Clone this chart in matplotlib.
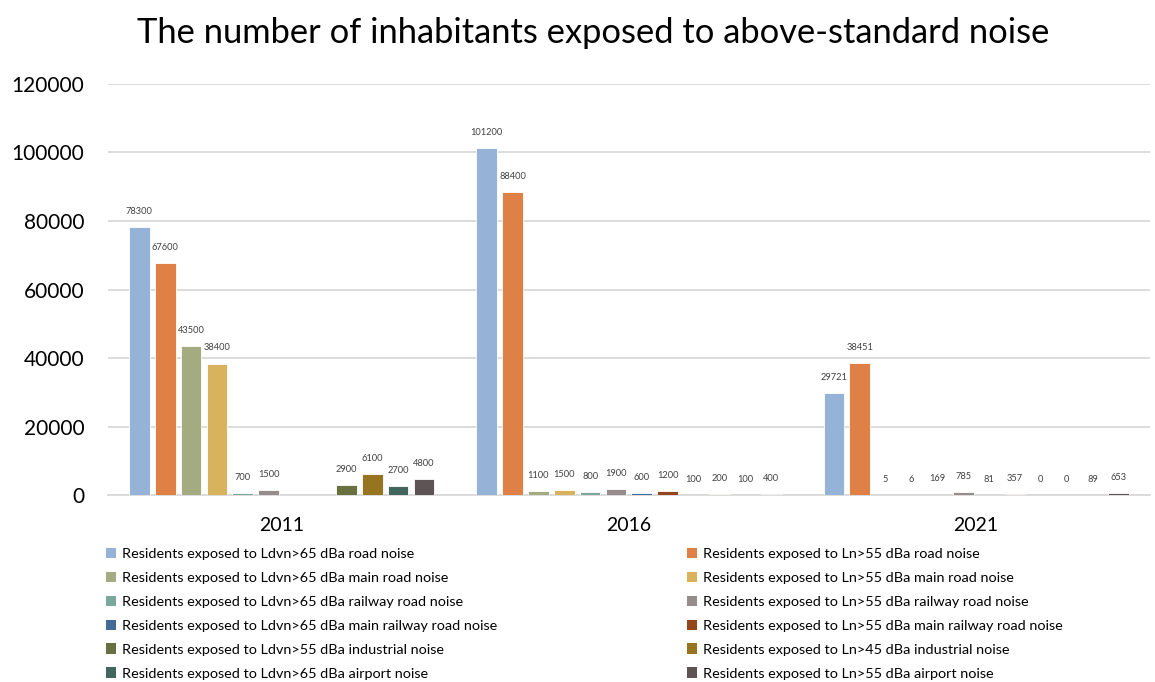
import numpy as np
import matplotlib
matplotlib.use("Agg")
import matplotlib.pyplot as plt
from matplotlib.patches import Patch

years = ["2011", "2016", "2021"]
series_names = [
    "Residents exposed to Ldvn>65 dBa road noise",
    "Residents exposed to Ln>55 dBa road noise",
    "Residents exposed to Ldvn>65 dBa main road noise",
    "Residents exposed to Ln>55 dBa main road noise",
    "Residents exposed to Ldvn>65 dBa railway road noise",
    "Residents exposed to Ln>55 dBa railway road noise",
    "Residents exposed to Ldvn>65 dBa main railway road noise",
    "Residents exposed to Ln>55 dBa main railway road noise",
    "Residents exposed to Ldvn>55 dBa industrial noise",
    "Residents exposed to Ln>45 dBa industrial noise",
    "Residents exposed to Ldvn>65 dBa airport noise",
    "Residents exposed to Ln>55 dBa airport noise",
]
values_2011 = [78300, 67600, 43500, 38400, 700, 1500, np.nan, np.nan, 2900, 6100, 2700, 4800]
values_2016 = [101200, 88400, 1100, 1500, 800, 1900, 600, 1200, 100, 200, 100, 400]
values_2021 = [29721, 38451, 5, 6, 169, 785, 81, 357, 0, 0, 89, 653]
colors = ["#95B3D7", "#DF8047", "#A5AB81", "#D8B25C", "#7BA79D", "#968C8C",
          "#426C95", "#93461B", "#68703F", "#97741F", "#41665E", "#5E5455"]

data = np.array([values_2011, values_2016, values_2021], dtype=float)  # years x series
n_series = len(series_names)

plt.rcParams['font.family'] = ['Lato', 'DejaVu Sans']
fig = plt.figure(figsize=(11.55, 6.82), dpi=100)
ax = fig.add_axes([0.0935, 0.274, 0.902, 0.603])

x = np.arange(len(years))
group_w = 0.894
slot = group_w / n_series
bar_w = slot * 0.8
for i in range(n_series):
    pos = x - group_w / 2 + slot * (i + 0.5)
    vals = data[:, i]
    bars = ax.bar(pos, np.nan_to_num(vals), width=bar_w, color=colors[i],
                  edgecolor="white", linewidth=0.6, zorder=3)
    labels = ["" if np.isnan(v) else f"{int(v)}" for v in vals]
    ax.bar_label(bars, labels=labels, padding=8, fontsize=6.7, color="#404040")

ax.set_xlim(-0.5, 2.5)
ax.set_ylim(0, 120000)
ax.set_yticks(np.arange(0, 120001, 20000))
ax.set_xticks(x)
ax.set_xticklabels(years, fontsize=14)
ax.tick_params(axis='y', labelsize=15, length=0, pad=17)
ax.tick_params(axis='x', length=0, pad=16)
ax.grid(axis='y', color="#D9D9D9", linewidth=1.3, zorder=0)
for s in ["top", "right", "left"]:
    ax.spines[s].set_visible(False)
ax.spines["bottom"].set_color("#D9D9D9")
ax.spines["bottom"].set_linewidth(1.3)

fig.text(0.514, 0.951, "The number of inhabitants exposed to above-standard noise",
         ha="center", va="center", fontsize=24.8)

handles = [Patch(facecolor=c, edgecolor="none") for c in colors]
left_idx = list(range(0, n_series, 2))
right_idx = list(range(1, n_series, 2))
common = dict(frameon=False, fontsize=10.4, handlelength=0.7, handleheight=0.7,
              handletextpad=0.4, labelspacing=0.82, borderaxespad=0, borderpad=0)
leg1 = fig.legend([handles[i] for i in left_idx], [series_names[i] for i in left_idx],
                  loc="upper left", bbox_to_anchor=(0.092, 0.197), **common)
leg2 = fig.legend([handles[i] for i in right_idx], [series_names[i] for i in right_idx],
                  loc="upper left", bbox_to_anchor=(0.595, 0.197), **common)

fig.savefig("out.png", dpi=100)
